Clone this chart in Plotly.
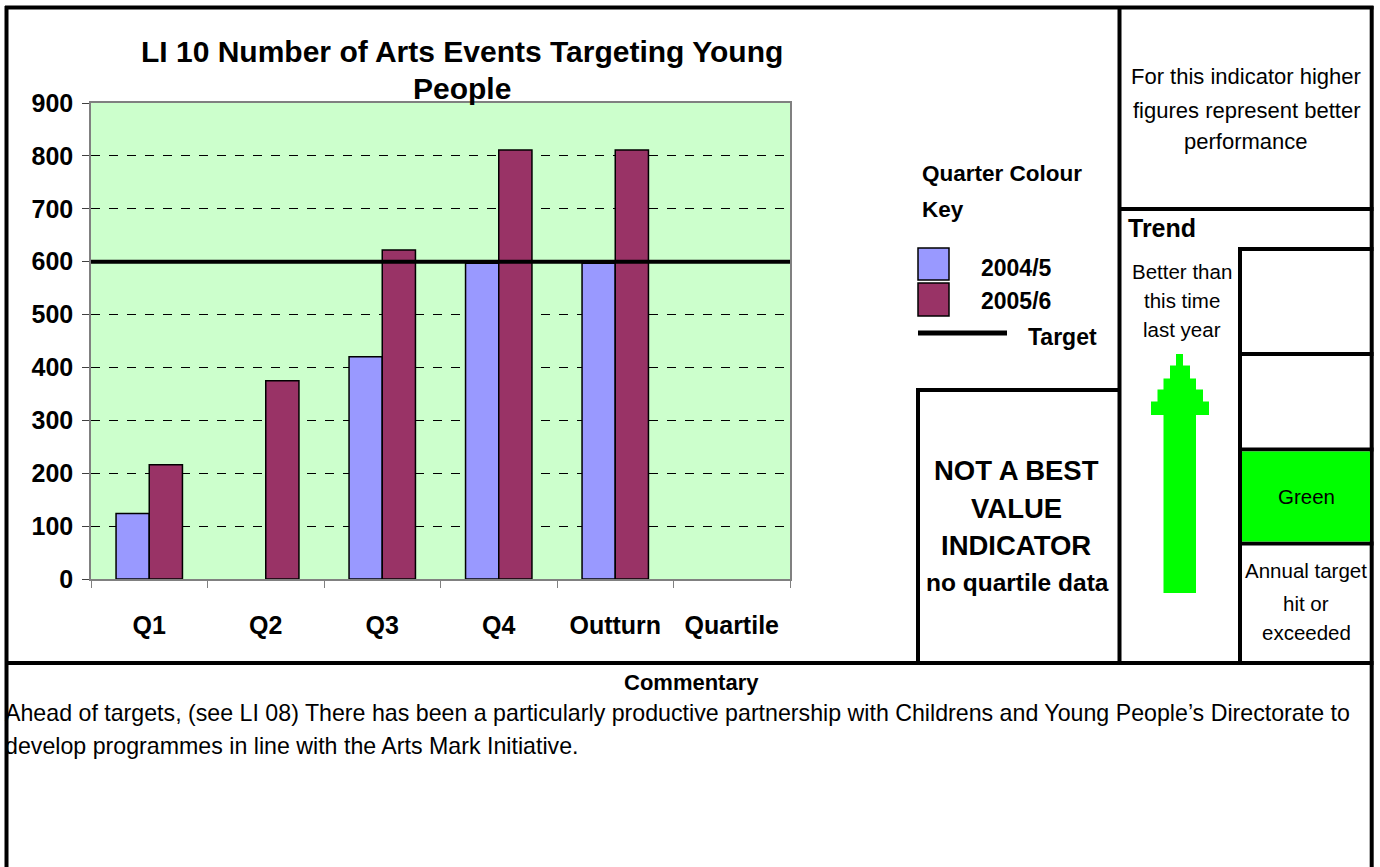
import plotly.graph_objects as go

# Quarterly figures for LI 10
categories = ["Q1", "Q2", "Q3", "Q4", "Outturn", "Quartile"]
events_2004_5 = [124, None, 420, 597, 597, None]
events_2005_6 = [216, 375, 622, 811, 811, None]
target_value = 600
y_ticks = [0, 100, 200, 300, 400, 500, 600, 700, 800, 900]

W, H = 1380, 867
FONT = "Liberation Sans"
BLUE = "#9999FF"
PLUM = "#993366"
GREEN = "#00FF00"


def px(x):
    return x / W


def py(y):
    return 1 - y / H


fig = go.Figure()
fig.add_trace(go.Bar(x=categories, y=events_2004_5, name="2004/5",
                     marker=dict(color=BLUE, line=dict(color="black", width=1.5))))
fig.add_trace(go.Bar(x=categories, y=events_2005_6, name="2005/6",
                     marker=dict(color=PLUM, line=dict(color="black", width=1.5))))

shapes = []
annotations = []

# target line across the plot area
shapes.append(dict(type="line", xref="x domain", yref="y", x0=0, x1=1,
                   y0=target_value, y1=target_value,
                   line=dict(color="black", width=4)))


def hline(x0, x1, y, w=4):
    shapes.append(dict(type="line", xref="paper", yref="paper",
                       x0=px(x0), x1=px(x1), y0=py(y), y1=py(y),
                       line=dict(color="black", width=w)))


def vline(x, y0, y1, w=4):
    shapes.append(dict(type="line", xref="paper", yref="paper",
                       x0=px(x), x1=px(x), y0=py(y0), y1=py(y1),
                       line=dict(color="black", width=w)))


def rect(x0, y0, x1, y1, fill, lw=0, lc="black"):
    shapes.append(dict(type="rect", xref="paper", yref="paper",
                       x0=px(x0), x1=px(x1), y0=py(y1), y1=py(y0),
                       fillcolor=fill, line=dict(color=lc, width=lw)))


def text(x, y, s, size, bold=False, xanchor="center", yanchor="middle", align="center"):
    if bold:
        s = "<b>" + s + "</b>"
    annotations.append(dict(xref="paper", yref="paper", x=px(x), y=py(y), text=s,
                            showarrow=False, xanchor=xanchor, yanchor=yanchor, align=align,
                            font=dict(family=FONT, size=size, color="black")))


def lines(x, ys, rows, size, bold=False, xanchor="center"):
    for y, row in zip(ys, rows):
        text(x, y, row, size, bold=bold, xanchor=xanchor)


# panel frame
hline(5, 1373.5, 7.5)
vline(6.5, 6, 867)
vline(1371.7, 6, 867)
hline(5, 1373.5, 663)
vline(1119.5, 7.5, 663)
hline(1119.5, 1373.5, 209)
vline(918, 390, 663)
hline(916, 1119.5, 390)
vline(1240, 249, 663)
hline(1238, 1373.5, 249)
hline(1238, 1373.5, 354)
hline(1238, 1373.5, 449.5)
hline(1238, 1373.5, 543.5)
rect(1242, 451.5, 1370, 541.5, GREEN)

# trend arrow, stepped head
arrow_steps = [
    (1176, 354, 1183, 366),
    (1170, 365.5, 1190, 379),
    (1163.5, 378.5, 1196, 390),
    (1157.5, 389.5, 1203, 402),
    (1151, 401.5, 1209, 415),
    (1163.5, 414.5, 1196, 593),
]
for x0, y0, x1, y1 in arrow_steps:
    rect(x0, y0, x1, y1, GREEN)

# colour key
rect(918, 248, 949, 280, BLUE, lw=1.5)
rect(918, 283, 949, 316, PLUM, lw=1.5)
hline(918, 1007, 333, w=5)
lines(920, [173, 209], ["Quarter Colour", "Key"], 22.5, bold=True, xanchor="left")
text(979, 268, "2004/5", 23, bold=True, xanchor="left")
text(979, 301, "2005/6", 23, bold=True, xanchor="left")
text(1026, 337, "Target", 23, bold=True, xanchor="left")

# title
lines(462, [52, 88], ["LI 10 Number of Arts Events Targeting Young", "People"], 30, bold=True)

# side panels
lines(1246, [76, 110, 141], ["For this indicator higher", "figures represent better",
                             "performance"], 22)
text(1126, 228, "Trend", 25, bold=True, xanchor="left")
lines(1182, [271, 300, 329], ["Better than", "this time", "last year"], 20.5)
text(1306, 496, "Green", 20.5)
lines(1306, [570, 603, 632], ["Annual target", "hit or", "exceeded"], 20.5)
lines(1016, [470, 508, 545], ["NOT A BEST", "VALUE", "INDICATOR"], 27.5, bold=True)
text(1017, 582, "no quartile data", 24.5, bold=True)

# commentary
text(691, 682, "Commentary", 22, bold=True)
text(3, 713, "Ahead of targets, (see LI 08) There has been a particularly productive partnership "
     "with Childrens and Young People\u2019s Directorate to", 23.2, xanchor="left")
text(3, 746, "develop programmes in line with the Arts Mark Initiative.", 23.2, xanchor="left")

axis_font = dict(family=FONT, size=25, color="black")
tick_text = ["<b>%d</b>" % v for v in y_ticks]

fig.update_layout(
    width=W, height=H, autosize=False,
    margin=dict(l=0, r=0, t=0, b=0, pad=0, autoexpand=False),
    paper_bgcolor="white",
    plot_bgcolor="#CCFFCC",
    showlegend=False,
    barmode="group",
    bargap=0.43,
    bargroupgap=0,
    shapes=shapes,
    annotations=annotations,
    xaxis=dict(domain=[px(91), px(790)], type="category", tickson="boundaries",
               ticks="outside", ticklen=7, tickcolor="#808080", showgrid=False,
               showline=True, linecolor="#808080", linewidth=1.5, mirror=True,
               tickfont=axis_font, ticklabelstandoff=23, automargin=False,
               tickvals=categories, ticktext=["<b>%s</b>" % c for c in categories],
               range=[-0.5, 5.5], fixedrange=True),
    yaxis=dict(domain=[py(579), py(103)], range=[0, 900], tickvals=y_ticks, ticktext=tick_text,
               ticks="outside", ticklen=7, tickcolor="#404040", automargin=False,
               showgrid=True, gridcolor="black", griddash="dash", gridwidth=1,
               zeroline=False, showline=True, linecolor="#808080", linewidth=1.5, mirror=True,
               tickfont=axis_font, ticklabelstandoff=4, fixedrange=True),
    yaxis2=dict(overlaying="y", side="right", anchor="x", range=[0, 900], tickvals=y_ticks,
                ticktext=tick_text, ticks="outside", ticklen=7, tickcolor="#404040",
                showgrid=False, zeroline=False, showline=False, automargin=False,
                tickfont=axis_font, ticklabelstandoff=4, fixedrange=True),
)

fig.write_html("out.html")
